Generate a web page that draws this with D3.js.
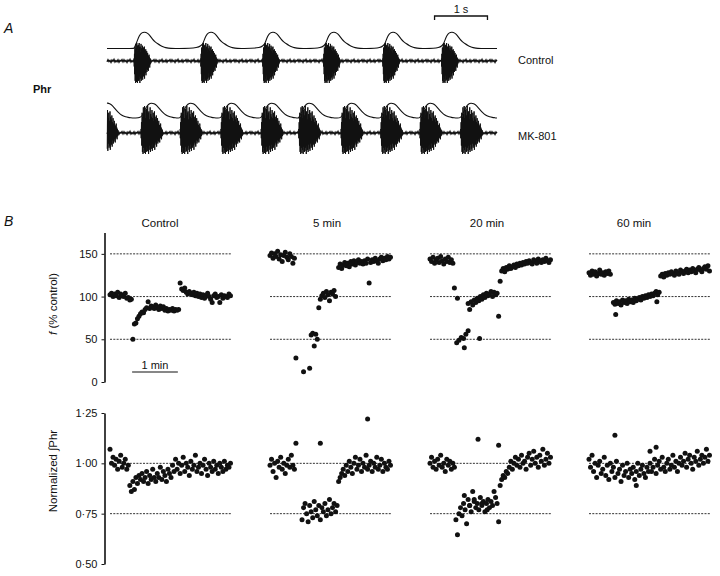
<!DOCTYPE html>
<html>
<head>
<meta charset="utf-8">
<script src="https://cdn.jsdelivr.net/npm/d3@7"></script>
<style>
  body { margin: 0; background: #fff; }
  text { font-family: "Liberation Sans", Arial, sans-serif; fill: #111; }
</style>
</head>
<body>
<div id="fig"></div>
<script>
// ---- panel A: phrenic bursts (s)
var traceSeconds = 7.37;
var controlOnsets = [0.51, 1.77, 2.94, 4.09, 5.21, 6.32];
var mkOnsets = [-0.2, 0.64, 1.38, 2.15, 2.91, 3.62, 4.42, 5.17, 5.91, 6.68];
// integrated envelope, one value every 0.05 s after onset
var controlInteg = [0, 0.35, 0.8, 0.97, 1.0, 0.95, 0.8, 0.55, 0.4, 0.28, 0.18, 0.1, 0.05, 0.02, 0];
var mkInteg = [0.05, 0.35, 0.75, 0.95, 1.0, 0.96, 0.85, 0.65, 0.45, 0.3, 0.2, 0.14, 0.1, 0.08, 0.06];
// raw burst spike heights (fraction of max)
var burstUp = [0.15,0.4,0.75,0.6,0.95,0.7,1.0,0.55,0.85,0.9,0.65,1.0,0.75,0.8,0.5,0.95,0.7,0.6,
  0.85,0.55,0.75,0.45,0.8,0.6,0.5,0.65,0.4,0.55,0.35,0.45,0.3,0.25,0.35,0.2,0.15,0.1];
var burstDown = [0.25,0.6,0.9,1.0,0.7,0.95,0.8,1.0,0.65,0.9,0.85,0.7,1.0,0.6,0.8,0.9,0.55,0.75,
  0.85,0.5,0.7,0.6,0.8,0.45,0.55,0.65,0.35,0.5,0.4,0.3,0.45,0.25,0.2,0.3,0.15,0.1];
var baseNoise = [0.8,-1.2,0.5,-0.6,1.4,-0.9,0.3,-1.5,1.0,-0.4,0.7,-1.1,1.2,-0.7,0.2,-1.3];

// ---- panel B: one breath value every 2 s
var sampleStep = 2;
var panelTitles = ["Control", "5 min", "20 min", "60 min"];
var fTicks = [0, 50, 100, 150];
var fRefLines = [50, 100, 150];
var nTicks = [0.5, 0.75, 1.0, 1.25];
var nRefLines = [0.75, 1.0];

var fControl = [102,104,100,103,101,105,99,103,101,100,104,98,99,96,97,
  50,
  68,69,74,77,80,82,81,85,87,94,86,89,88,86,90,87,85,89,86,88,84,86,83,85,84,86,83,85,84,85,
  116,109,107,110,105,103,106,104,102,105,101,104,100,103,99,
  102,98,101,104,100,97,93,101,103,99,100,93,102,98,101,100,99,103,101];
var f5 = [148,151,145,150,147,153,144,149,141,148,152,146,143,150,147,139,145,
  28,null,null,null,null,12,null,null,null,16,55,57,42,56,50,87,
  97,101,104,99,106,102,95,105,103,107,100,null,
  134,138,133,137,140,136,139,135,141,138,142,137,140,143,139,141,138,142,139,144,
  116,
  140,143,141,145,142,139,144,146,142,145,143,147,144,146];
var f20 = [144,141,146,139,143,145,140,147,142,138,144,141,146,140,143,139,
  110,null,98,null,null,null,null,null,null,
  92,85,94,90,96,93,98,95,100,97,102,99,104,101,103,106,100,105,102,104,
  77,118,
  130,133,129,134,132,136,133,135,137,134,138,136,139,137,140,138,141,139,142,140,138,143,141,139,144,142,140,143,141,145,142,140,143];
var f60 = [128,125,130,126,129,124,127,131,126,128,125,129,127,130,126,
  null,
  93,91,95,92,94,90,96,93,95,92,97,94,96,93,98,95,97,99,96,100,98,101,99,102,100,103,101,104,106,102,105,
  124,126,123,127,125,128,126,129,127,125,130,128,126,131,129,127,130,132,128,131,129,133,130,128,132,134,131,129,133,135,132,136,130];
var fExtraControl = [];
var fExtra5 = [];
var fExtra20 = [[35,46],[38,49],[41,52],[44,51],[47,56],[50,60],[45,40],[65,51]];
var fExtra60 = [[35,79],[89,94]];

var nControl = [1.07,
  1.00,1.03,0.99,1.02,0.97,1.01,1.04,0.98,1.00,1.02,0.97,0.99,
  0.89,0.86,0.91,0.87,0.93,0.90,0.94,
  0.92,0.95,0.91,0.93,0.96,0.90,0.94,0.92,0.97,0.93,0.91,0.95,0.93,0.98,0.92,0.96,0.94,0.91,0.97,0.95,0.93,0.99,0.96,
  1.02,0.97,1.00,0.95,0.99,1.03,0.96,1.00,0.98,0.94,1.01,0.97,0.99,1.04,0.96,0.98,1.00,0.95,0.99,1.02,0.97,0.94,1.00,0.98,0.96,1.01,0.97,0.99,0.95,1.00,0.98,0.96,1.01,0.97,0.99,0.98,1.00];
var n5 = [0.99,1.02,0.96,1.00,0.93,1.01,0.98,1.03,0.97,1.00,0.95,0.99,1.02,0.98,1.04,0.99,0.97,
  1.10,null,null,null,
  0.72,0.78,0.80,0.75,0.71,0.79,0.76,0.73,0.81,0.77,0.74,0.79,0.72,0.78,0.76,0.80,0.74,0.77,0.82,0.75,0.78,0.80,0.76,0.79,
  0.91,0.93,0.95,0.97,0.94,0.99,0.96,1.01,0.98,0.95,1.00,1.03,0.97,0.99,1.02,0.96,1.00,0.98,1.04,0.97,0.99,1.01,0.96,1.00,0.98,1.03,0.97,0.99,1.02,0.96,1.00,0.98,0.97,1.01,0.99];
var n20 = [1.00,1.03,0.98,1.01,0.97,1.02,0.99,1.04,0.98,1.00,0.96,1.02,0.99,1.01,0.97,1.00,0.98,
  0.72,0.645,0.75,0.78,0.74,0.80,0.77,0.70,0.82,0.79,0.76,0.86,0.81,0.78,0.80,0.77,0.83,0.79,0.81,0.76,0.80,0.82,0.78,0.81,0.79,0.86,0.83,0.80,0.71,
  0.89,0.92,0.94,0.93,0.96,0.95,
  0.98,1.01,0.97,1.00,1.03,0.99,1.02,0.98,1.04,1.00,1.01,0.97,1.03,1.05,0.99,1.02,1.06,1.00,1.03,0.98,1.04,1.01,1.07,0.99,1.02,1.05,1.00,1.03];
var n60 = [1.02,0.98,1.04,0.96,1.00,0.93,0.99,1.01,0.95,0.97,1.03,0.94,0.99,0.92,1.00,0.96,0.98,0.93,1.01,0.95,
  0.97,0.91,0.99,0.94,0.96,1.00,0.93,0.97,0.95,0.98,0.92,0.96,1.00,0.94,0.97,0.99,0.95,0.93,0.98,0.96,
  1.00,0.96,0.98,1.02,0.95,0.99,1.01,0.97,1.03,0.98,0.96,1.00,1.02,0.97,0.99,1.04,0.98,1.01,0.96,1.00,
  1.03,0.99,1.01,1.05,0.98,1.02,1.04,1.00,0.97,1.03,1.01,1.06,0.99,1.02,1.04,1.00,1.03,1.07,1.01,1.04];
var nExtraControl = [];
var nExtra5 = [[66,1.10],[128,1.22]];
var nExtra20 = [[63,1.12],[90,1.09],[45,0.84],[52,0.79],[58,0.82],[68,0.80],[75,0.77]];
var nExtra60 = [[34,1.14],[80,1.06],[88,1.08],[62,0.89]];


var svg = d3.select("#fig").append("svg")
  .attr("width", 720).attr("height", 576);

// ================= A =================
var xA = d3.scaleLinear().domain([0, traceSeconds]).range([107, 497]);

svg.append("text").attr("x", 4).attr("y", 33).text("A")
  .attr("font-size", 14).attr("font-style", "italic");
svg.append("text").attr("x", 33).attr("y", 93).text("Phr")
  .attr("font-size", 11).attr("font-weight", "bold");
svg.append("text").attr("x", 518).attr("y", 64).text("Control").attr("font-size", 11);
svg.append("text").attr("x", 518).attr("y", 140).text("MK-801").attr("font-size", 11);

// 1 s bar
var sbar = svg.append("g");
sbar.append("path")
  .attr("d", "M" + xA(6.19) + ",20V16H" + xA(7.19) + "V20")
  .attr("fill", "none").attr("stroke", "#111").attr("stroke-width", 1.3);
sbar.append("text").attr("x", (xA(6.19) + xA(7.19)) / 2).attr("y", 13)
  .attr("text-anchor", "middle").attr("font-size", 11).text("1 s");

function integKnots(onsets, shape){
  var pts = [];
  if (onsets[0] > 0) pts.push([0, shape[shape.length - 1]]);
  onsets.forEach(function(t0, i){
    var next = i < onsets.length - 1 ? onsets[i + 1] : traceSeconds;
    if (onsets[0] > 0 && i == 0) pts.push([t0, shape[0]]);
    shape.forEach(function(v, k){
      var t = t0 + k * 0.05;
      if (t > -1e-6 && t < next) pts.push([Math.max(0, t), v]);
    });
  });
  pts.push([traceSeconds, shape[shape.length - 1]]);
  return pts;
}

function drawTrace(onsets, shape, iBase, iAmp, rBase, upAmp, downAmp, dur){
  // integrated
  var line = d3.line().curve(d3.curveBasis)
    .x(function(d){ return xA(d[0]); })
    .y(function(d){ return iBase - d[1] * iAmp; });
  svg.append("path").attr("d", line(integKnots(onsets, shape)))
    .attr("fill", "none").attr("stroke", "#111").attr("stroke-width", 1.1);

  // raw baseline
  var bpts = [];
  for (var px = xA(0), i = 0; px <= xA(traceSeconds); px += 1, i++)
    bpts.push([px, rBase + baseNoise[i % baseNoise.length]]);
  svg.append("path").attr("d", d3.line()(bpts))
    .attr("fill", "none").attr("stroke", "#111").attr("stroke-width", 1.4);

  // raw bursts
  onsets.forEach(function(t0){
    var pts = [];
    var n = burstUp.length;
    for (var k = 0; k < n; k++){
      var xa = xA(t0 + dur * k / n), xb = xA(t0 + dur * (k + 0.5) / n);
      if (xa >= xA(0)) pts.push([xa, rBase - burstUp[k] * upAmp]);
      if (xb >= xA(0)) pts.push([xb, rBase + burstDown[k] * downAmp]);
    }
    svg.append("path").attr("d", d3.line()(pts))
      .attr("fill", "none").attr("stroke", "#111").attr("stroke-width", 1);
  });
}

drawTrace(controlOnsets, controlInteg, 48.5, 16.5, 61, 18, 22, 0.32);
drawTrace(mkOnsets, mkInteg, 119, 16, 133, 27, 21, 0.42);

// ================= B =================
var panelLeft = [110, 270, 430, 589], panelW = 122;
var titleX = [160, 327, 487, 634];
var xs = panelLeft.map(function(l){
  return d3.scaleLinear().domain([0, 160]).range([l, l + panelW]);
});

svg.append("text").attr("x", 4).attr("y", 226).text("B")
  .attr("font-size", 14).attr("font-style", "italic");
panelTitles.forEach(function(t, i){
  svg.append("text").attr("x", titleX[i]).attr("y", 227)
    .attr("text-anchor", "middle").attr("font-size", 11.5).text(t);
});

var yF = d3.scaleLinear().domain([0, 175]).range([382, 232.5]);
var yN = d3.scaleLinear().domain([0.5, 1.25]).range([564, 413]);

function drawRow(yScale, ticks, fmt, refLines, vals, extras){
  var ax = svg.append("g").attr("transform", "translate(104.5,0)")
    .call(d3.axisLeft(yScale).tickValues(ticks).tickFormat(fmt)
      .tickSize(3).tickSizeOuter(0).tickPadding(4));
  ax.select(".domain").attr("stroke", "#111").attr("stroke-width", 1.6);
  ax.selectAll(".tick line").attr("stroke", "#111");
  ax.selectAll("text").attr("font-size", 11)
    .attr("font-family", "Liberation Sans, Arial, sans-serif").attr("fill", "#222");

  vals.forEach(function(series, p){
    var x = xs[p];
    refLines.forEach(function(r){
      svg.append("line")
        .attr("x1", x(0)).attr("x2", x(160))
        .attr("y1", yScale(r)).attr("y2", yScale(r))
        .attr("stroke", "#333").attr("stroke-width", 1)
        .attr("stroke-dasharray", "2,1.3");
    });
    var pts = [];
    series.forEach(function(v, i){ if (v != null) pts.push([i * sampleStep, v]); });
    pts = pts.concat(extras[p]);
    svg.selectAll(null).data(pts).enter().append("circle")
      .attr("cx", function(d){ return x(d[0]); })
      .attr("cy", function(d){ return yScale(d[1]); })
      .attr("r", 2.5)
      .attr("fill", "#111");
  });
}

drawRow(yF, fTicks, d3.format("d"), fRefLines,
  [fControl, f5, f20, f60], [fExtraControl, fExtra5, fExtra20, fExtra60]);
drawRow(yN, nTicks, function(d){ return d3.format(".2f")(d).replace(".", "\u00b7"); }, nRefLines,
  [nControl, n5, n20, n60], [nExtraControl, nExtra5, nExtra20, nExtra60]);

// axis titles
svg.append("text").attr("transform", "translate(57,304) rotate(-90)")
  .attr("text-anchor", "middle").attr("font-size", 11.5)
  .html('<tspan font-style="italic">f</tspan> (% control)');
svg.append("text").attr("transform", "translate(57,471) rotate(-90)")
  .attr("text-anchor", "middle").attr("font-size", 11.5)
  .text("Normalized  \u222bPhr");

// 1 min bar
svg.append("line").attr("x1", xs[0](29)).attr("x2", xs[0](89))
  .attr("y1", 372).attr("y2", 372).attr("stroke", "#111").attr("stroke-width", 1.2);
svg.append("text").attr("x", (xs[0](29) + xs[0](89)) / 2).attr("y", 369)
  .attr("text-anchor", "middle").attr("font-size", 11).text("1 min");
</script>
</body>
</html>
